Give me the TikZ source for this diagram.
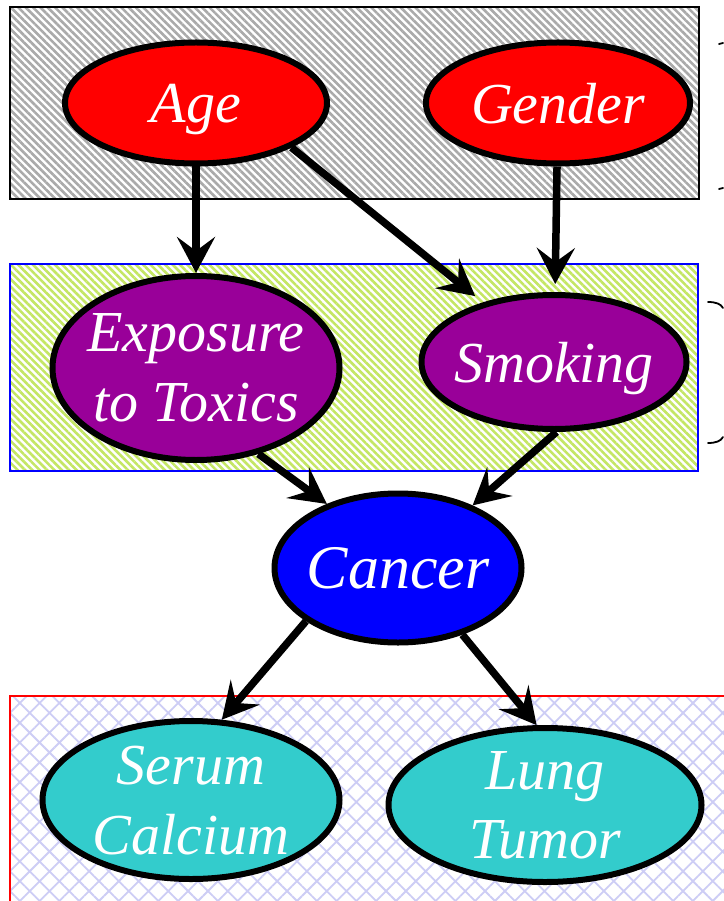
\documentclass[tikz,border=0pt]{standalone}
\usepackage{fontspec}
\setmainfont{Liberation Serif}
\usetikzlibrary{shapes.geometric,arrows.meta,patterns.meta}

\definecolor{nodered}{RGB}{255,0,0}
\definecolor{nodepurple}{RGB}{153,0,153}
\definecolor{nodeblue}{RGB}{0,0,255}
\definecolor{nodecyan}{RGB}{51,204,204}
\definecolor{stripegray}{RGB}{170,170,170}
\definecolor{stripegreen}{RGB}{196,230,100}
\definecolor{hatchblue}{RGB}{205,205,245}

\begin{document}
\begin{tikzpicture}[x=1pt,y=-1pt,
  var/.style={ellipse, draw=black, line width=6pt, inner sep=-30pt,
    text depth=0pt, text=white, align=center,
    font=\itshape\fontsize{58}{70}\selectfont},
  twoline/.style={text depth=-8pt},
  edge/.style={line width=7.5pt, draw=black,
    -{Stealth[length=36pt,width=38pt,inset=14pt]}},
  layerbox/.style={line width=1.5pt},
  bracemark/.style={line width=1.8pt, line cap=round}
]
\useasboundingbox (0,0) rectangle (723,901);

% layer backgrounds
\fill[white] (10,7) rectangle (699,199);
\fill[pattern={Lines[angle=-45,distance=5.2pt,line width=2.6pt]},
      pattern color=stripegray] (10,7) rectangle (699,199);
\draw[layerbox, black] (10,7) rectangle (699,199);

\fill[white] (10,264) rectangle (698,471);
\fill[pattern={Lines[angle=-45,distance=5.2pt,line width=2.6pt]},
      pattern color=stripegreen] (10,264) rectangle (698,471);
\draw[layerbox, blue] (10,264) rectangle (698,471);

\fill[white] (10,696) rectangle (740,910);
\fill[pattern={Hatch[angle=45,distance=14pt,line width=1.8pt]},
      pattern color=hatchblue] (10,696) rectangle (740,910);
\draw[layerbox, red] (10,696) rectangle (740,910);

% brace ends at the right margin
\draw[bracemark] (719,44) -- (723,43);
\draw[bracemark] (719,189) -- (723,188);
\draw[bracemark] (708,302) .. controls (716,302) and (721,304) .. (723,308);
\draw[bracemark] (723,437) .. controls (721,441) and (716,443) .. (708,443);

% variables
\node[var, fill=nodered, minimum width=262pt, minimum height=121pt]
  (age) at (196,103) {Age};
\node[var, fill=nodered, minimum width=264pt, minimum height=121pt]
  (gender) at (558,103) {Gender};
\node[var, twoline, fill=nodepurple, minimum width=287pt, minimum height=184pt]
  (exposure) at (196,368) {Exposure\\to Toxics};
\node[var, fill=nodepurple, minimum width=265pt, minimum height=134pt]
  (smoking) at (554,362) {Smoking};
\node[var, fill=nodeblue, minimum width=247pt, minimum height=149pt,
  font=\itshape\fontsize{62}{70}\selectfont]
  (cancer) at (398,568) {Cancer};
\node[var, twoline, fill=nodecyan, minimum width=297pt, minimum height=158pt]
  (serum) at (191,800) {Serum\\Calcium};
\node[var, twoline, fill=nodecyan, minimum width=313pt, minimum height=154pt]
  (lung) at (545,805) {Lung\\Tumor};

% dependencies
\draw[edge] (age) -- (exposure);
\draw[edge, shorten >=10pt] (age.-25) -- (smoking.140);
\draw[edge, shorten >=8pt] (gender) -- (smoking);
\draw[edge] (exposure.-54) -- (cancer.138);
\draw[edge] (smoking.-88) -- (cancer.40);
\draw[edge] (cancer.-150) -- (serum.69);
\draw[edge] (cancer.-46) -- (lung.96);
\end{tikzpicture}
\end{document}
